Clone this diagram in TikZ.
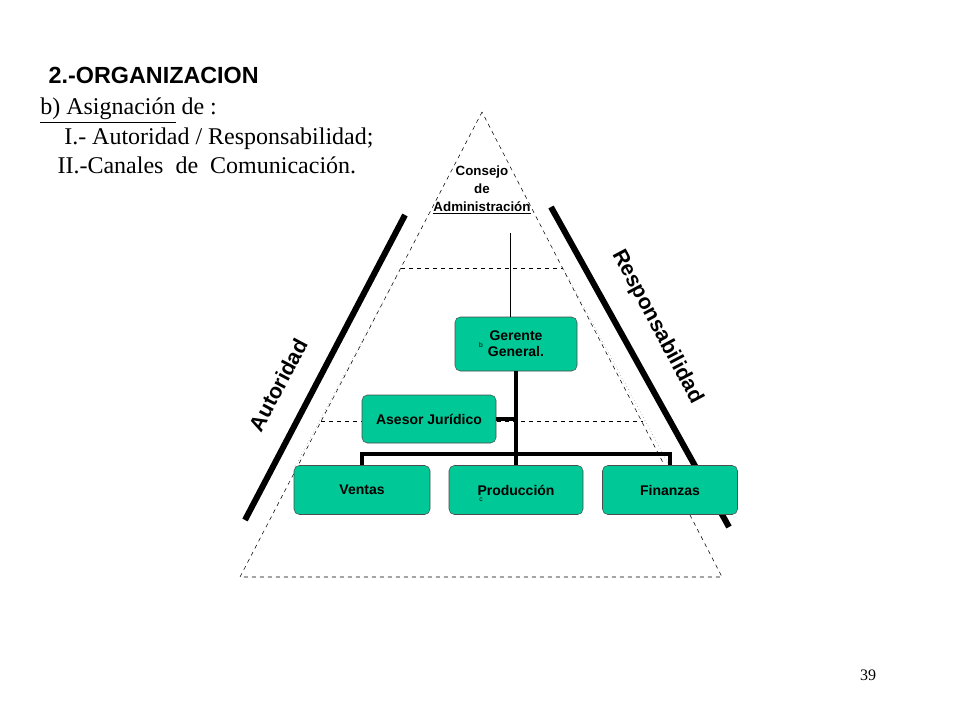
\documentclass[tikz,border=0pt]{standalone}
\usepackage{fontspec}
\setmainfont{Liberation Serif}
\setsansfont{Liberation Sans}
\definecolor{boxgreen}{HTML}{00C896}
\tikzset{
  orgbox/.style={draw=black!70,fill=boxgreen,rounded corners=4pt,font=\sffamily\bfseries\fontsize{10.5}{12}\selectfont},
  thickbar/.style={line width=4.5pt},
  link/.style={line width=3pt},
  sidelabel/.style={font=\sffamily\bfseries\fontsize{16}{18}\selectfont}
}
\begin{document}
\begin{tikzpicture}[x=0.75pt,y=-0.75pt]
  \useasboundingbox (0,0) rectangle (960,720);

  % pyramid
  \coordinate (apex) at (482,112);
  \coordinate (baseL) at (240,577);
  \coordinate (baseR) at (722,577);
  \draw[dashed,thin] (apex) -- (baseL) -- (baseR) -- cycle;
  \draw[dashed,thin] (401,268) -- (563,268);
  \draw[dashed,thin] (321,421) -- (643,421);
  \draw[dotted,gray] (401,268) -- (295,467);
  \draw[dotted,gray] (563,268) -- (670,467);

  % side bars
  \draw[thickbar] (405,215) -- (245,520);
  \draw[thickbar] (551,207) -- (729,527);
  \node[sidelabel,rotate=62] (aut) at (278,385) {Autoridad};
  \node[sidelabel,rotate=-62] (resp) at (657,327) {Responsabilidad};

  % board
  \node[font=\sffamily\bfseries\fontsize{10}{13.5}\selectfont,align=center,inner sep=1pt] (board) at (482,190)
    {Consejo\\de\\\underline{Administración}};

  % boxes
  \node[orgbox,minimum width=91.5pt,minimum height=40.5pt,align=center] (gerente) at (516,344) {Gerente\\General.};
  \node[font=\sffamily\tiny,inner sep=0pt] (b) at (481,345) {b};
  \node[orgbox,minimum width=100.5pt,minimum height=36pt] (asesor) at (429,419) {Asesor Jurídico};
  \node[orgbox,minimum width=102pt,minimum height=36.75pt] (ventas) at (362,490) {Ventas};
  \node[orgbox,minimum width=100.5pt,minimum height=36.75pt] (prod) at (516,490) {Producción};
  \node[font=\sffamily\tiny,inner sep=0pt] (c) at (481,500) {c};
  \node[orgbox,minimum width=101.25pt,minimum height=36.75pt] (fin) at (670,490) {Finanzas};

  % connectors
  \coordinate (top) at (510,233);
  \draw[thin] (top) -- (top |- gerente.north);
  \draw[link] (gerente.south) -- (prod.north);
  \draw[link] (asesor.east) -- (asesor.east -| gerente.south);
  \draw[link] (ventas.north) -- ++(0,-11) -| (fin.north);

  % texts
  \node[font=\sffamily\bfseries\fontsize{17.5}{20}\selectfont,anchor=west] (title) at (44,75) {2.-ORGANIZACION};
  \node[font=\fontsize{18}{22}\selectfont,anchor=north west,align=left,inner sep=0pt] (sub) at (40,98)
    {\underline{b) Asignación} de :\\
     \hspace*{18pt}I.- Autoridad / Responsabilidad;\\
     \hspace*{13pt}II.-Canales \ de \ Comunicación.};
  \node[font=\fontsize{12}{14}\selectfont] (page) at (868,675) {39};
\end{tikzpicture}
\end{document}
